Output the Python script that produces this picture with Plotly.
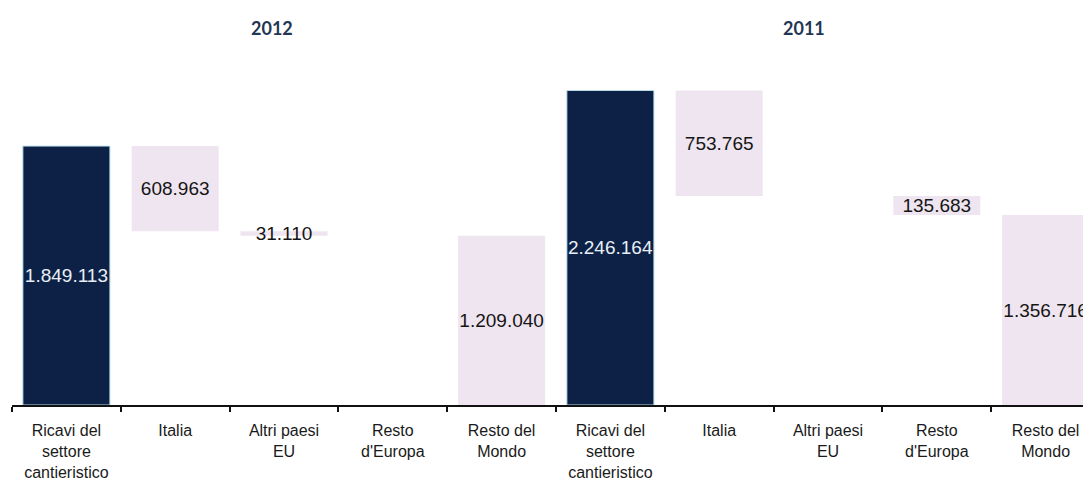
import plotly.graph_objects as go

# ---- data ----
years = ["2012", "2011"]
categories = ["Ricavi del<br>settore<br>cantieristico", "Italia", "Altri paesi<br>EU",
              "Resto<br>d'Europa", "Resto del<br>Mondo"]
totals = [1849113, 2246164]
italia = [608963, 753765]
altri_eu = [31110, 0]
resto_europa = [0, 135683]
resto_mondo = [1209040, 1356716]


def fmt(v):
    return f"{v:,}".replace(",", ".") if v else ""


n = len(categories)
tot_x, tot_y, tot_text = [], [], []
comp_x, comp_y, comp_base, comp_text = [], [], [], []
for i, yr in enumerate(years):
    tot_x.append(i * n)
    tot_y.append(totals[i])
    tot_text.append(fmt(totals[i]))
    top = totals[i]
    for j, vals in enumerate([italia, altri_eu, resto_europa, resto_mondo], start=1):
        v = vals[i]
        comp_x.append(i * n + j)
        comp_y.append(v)
        comp_base.append(top - v)
        comp_text.append(fmt(v))
        top -= v

tick_vals = list(range(n * len(years)))
tick_text = categories * len(years)

DARK = "#0c2145"
LIGHT = "#efe5f0"

fig = go.Figure()
fig.add_trace(go.Bar(
    x=tot_x, y=tot_y, base=[0] * len(tot_y), width=0.8,
    marker=dict(color=DARK, line=dict(color="#b9dde8", width=1)),
    text=tot_text, textposition="inside", insidetextanchor="middle",
    constraintext="none", textangle=0,
    insidetextfont=dict(family="Liberation Sans, Arial", size=19, color="#e8eef6"),
    showlegend=False, cliponaxis=False,
))
fig.add_trace(go.Bar(
    x=comp_x, y=comp_y, base=comp_base, width=0.8,
    marker=dict(color=LIGHT, line=dict(width=0)),
    text=comp_text, textposition="inside", insidetextanchor="middle",
    constraintext="none", textangle=0,
    insidetextfont=dict(family="Liberation Sans, Arial", size=19, color="#151515"),
    showlegend=False, cliponaxis=False,
))

# page body has an 8px offset; figure coordinates = screen - 8
plot_left = 4
plot_top, plot_bottom = 52, 397
cat_px = 108.8
x_max = -0.5 + (1091 - plot_left) / cat_px
fig.update_layout(
    width=1091, height=486,
    margin=dict(l=plot_left, r=0, t=plot_top, b=486 - plot_bottom),
    paper_bgcolor="white", plot_bgcolor="white",
    barmode="overlay",
    xaxis=dict(
        range=[-0.5, x_max], tickmode="array", tickvals=tick_vals, ticktext=tick_text,
        ticks="", showgrid=False, zeroline=False, ticklabelstandoff=10,
        showline=True, linecolor="#111111", linewidth=2,
        tickfont=dict(family="Liberation Sans, Arial", size=16, color="#1a1a1a"),
        minor=dict(tickvals=[k - 0.5 for k in range(n * len(years) + 1)],
                   ticks="outside", ticklen=5, tickwidth=2, tickcolor="#111111",
                   showgrid=False),
    ),
    yaxis=dict(range=[0, 2464000], visible=False, showgrid=False, zeroline=False),
)

title_y = (plot_bottom - 20) / (plot_bottom - plot_top)
for yr, px in zip(years, [264, 796]):
    fig.add_annotation(
        text=f"<b>{yr}</b>", xref="paper", yref="paper",
        x=(px - plot_left) / (1091 - plot_left), y=title_y, xanchor="center", yanchor="middle",
        showarrow=False, font=dict(family="Lato, Open Sans", size=18, color="#1f3654"),
    )

fig.write_html("out.html")
